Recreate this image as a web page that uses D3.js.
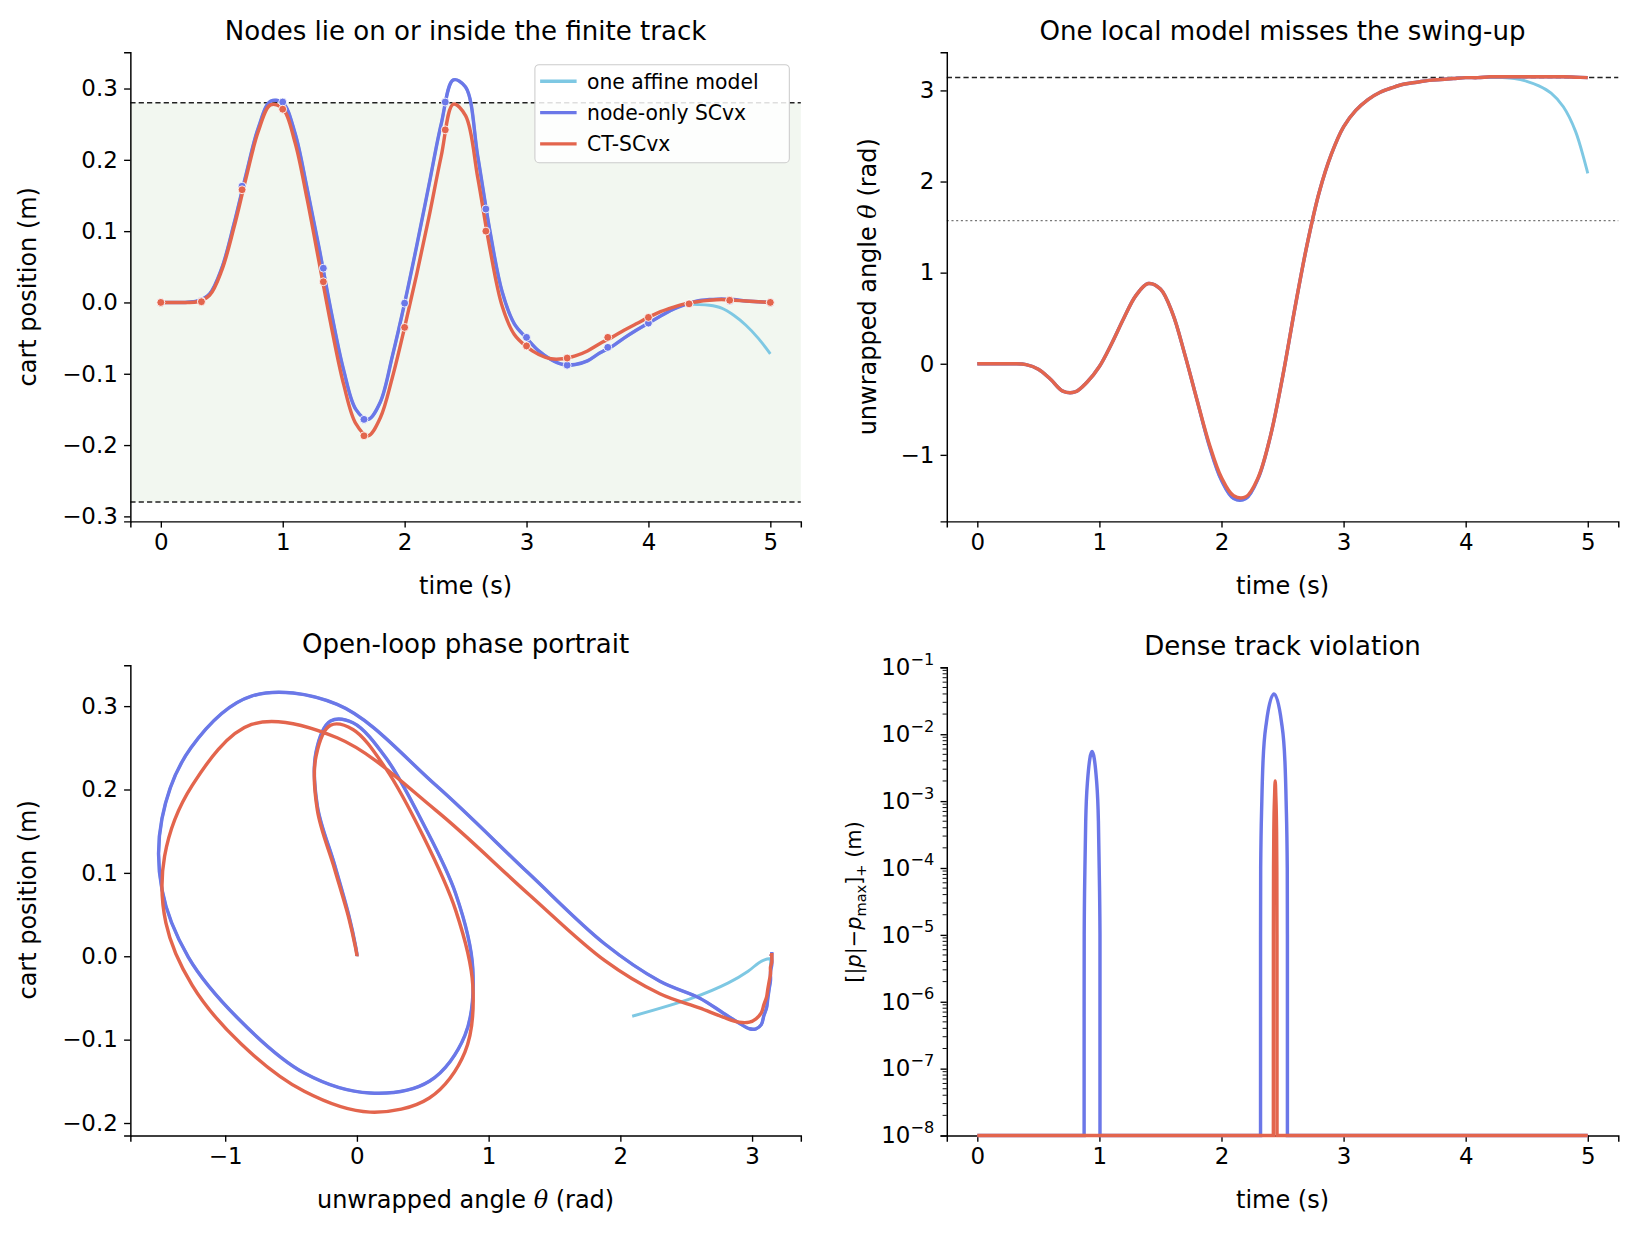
<!DOCTYPE html>
<html><head><meta charset="utf-8">
<script src="https://cdn.jsdelivr.net/npm/d3@7"></script>
<style>body{margin:0;background:#fff}text{font-family:"DejaVu Sans",sans-serif}</style>
</head><body><svg id="c" width="1635" height="1234"></svg>
<script>
// time grid 0..5 step 0.1
const tGrid = d3.range(51).map(i => i / 10);
const pRed = [0,0,0,0.001,0.01,0.045,0.105,0.175,0.24,0.277,0.272,0.225,0.145,0.055,-0.035,-0.115,-0.17,-0.187,-0.162,-0.105,-0.035,0.04,0.12,0.205,0.278,0.262,0.175,0.075,-0.005,-0.045,-0.062,-0.073,-0.079,-0.079,-0.075,-0.068,-0.058,-0.049,-0.039,-0.03,-0.021,-0.013,-0.007,-0.002,0.001,0.003,0.004,0.003,0.002,0.001,0];
const pBlue = [0,0,0,0.002,0.012,0.048,0.11,0.18,0.245,0.282,0.28,0.238,0.16,0.075,-0.015,-0.095,-0.15,-0.164,-0.14,-0.075,-0.001,0.08,0.165,0.25,0.312,0.302,0.205,0.1,0.015,-0.03,-0.05,-0.068,-0.08,-0.087,-0.087,-0.082,-0.071,-0.062,-0.05,-0.039,-0.029,-0.019,-0.01,-0.003,0.002,0.004,0.005,0.004,0.002,0.001,0];
const pCyan = [0,0,0,0.002,0.012,0.048,0.11,0.18,0.245,0.282,0.28,0.238,0.16,0.075,-0.015,-0.095,-0.15,-0.164,-0.14,-0.075,-0.001,0.08,0.165,0.25,0.312,0.302,0.205,0.1,0.015,-0.03,-0.05,-0.068,-0.08,-0.087,-0.087,-0.082,-0.071,-0.062,-0.05,-0.039,-0.029,-0.019,-0.01,-0.003,-0.003,-0.004,-0.008,-0.018,-0.032,-0.05,-0.072];
const thRed = [0,0,0,0,-0.01,-0.06,-0.17,-0.3,-0.31,-0.2,-0.03,0.22,0.5,0.75,0.88,0.82,0.55,0.1,-0.4,-0.88,-1.25,-1.45,-1.46,-1.25,-0.8,-0.15,0.6,1.3,1.88,2.3,2.6,2.78,2.9,2.98,3.03,3.07,3.09,3.11,3.12,3.13,3.14,3.14,3.15,3.15,3.15,3.15,3.15,3.15,3.15,3.145,3.14];
const thBlue = [0,0,0,0,-0.01,-0.06,-0.17,-0.3,-0.31,-0.2,-0.03,0.22,0.5,0.75,0.88,0.82,0.55,0.1,-0.4,-0.9,-1.28,-1.48,-1.48,-1.26,-0.8,-0.15,0.6,1.3,1.88,2.3,2.6,2.78,2.9,2.98,3.03,3.07,3.09,3.11,3.12,3.13,3.14,3.14,3.15,3.15,3.15,3.15,3.15,3.15,3.15,3.145,3.14];
const thCyan = [0,0,0,0,-0.01,-0.06,-0.17,-0.3,-0.31,-0.2,-0.03,0.22,0.5,0.75,0.88,0.82,0.55,0.1,-0.4,-0.9,-1.28,-1.48,-1.48,-1.26,-0.8,-0.15,0.6,1.3,1.88,2.3,2.6,2.78,2.9,2.98,3.03,3.07,3.09,3.11,3.12,3.13,3.14,3.14,3.14,3.14,3.13,3.1,3.05,2.97,2.82,2.55,2.09];
// node markers at t = k/3
const nodeT = d3.range(16).map(k => k / 3);
const nodeRed = [0,0.001,0.158,0.271,0.029,-0.187,-0.035,0.242,0.1,-0.061,-0.078,-0.049,-0.021,-0.002,0.003,0];
const nodeBlue = [0,0.002,0.163,0.281,0.048,-0.164,-0.001,0.281,0.131,-0.049,-0.088,-0.063,-0.029,-0.002,0.002,0];
// dense track violation (clipped at 1e-8)
const vBlueT = [0,0.875,0.8751,0.8757,0.8815,0.888,0.903,0.94,0.977,0.992,0.9985,1.0049,1.005,2.32,2.3201,2.3211,2.3305,2.3405,2.368,2.43,2.492,2.5195,2.5295,2.5389,2.54,2.5401,5];
const vBlue = [1e-8,1e-8,1e-6,1e-5,1e-4,5e-4,2e-3,5.5e-3,2e-3,5e-4,1e-4,1e-5,1e-8,1e-8,1e-5,1e-4,1e-3,4e-3,1.5e-2,4e-2,1.5e-2,4e-3,1e-3,1e-4,1e-5,1e-8,1e-8];
const vRedT = [0,2.425,2.4251,2.4253,2.4265,2.429,2.435,2.44,2.445,2.451,2.4535,2.4547,2.4549,2.455,5];
const vRed = [1e-8,1e-8,1e-6,1e-5,1e-4,4e-4,1.2e-3,2e-3,1.2e-3,4e-4,1e-4,1e-5,1e-6,1e-8,1e-8];
const legendLabels = ["one affine model","node-only SCvx","CT-SCvx"];
const C = {cyan:"#7ec8e3", blue:"#6b77e8", red:"#e3654d"};

const svg = d3.select("#c").append("g").attr("transform","scale(1.0427)");
const line = (x,y,xs,ys,curve=d3.curveCatmullRom) => d3.line().curve(curve).x((d,i)=>x(xs[i])).y((d,i)=>y(ys[i]))(xs);

function frame(g, x, y, title, xl, xticks, yticks, yfmt) {
  const [x0,x1] = x.range(), [y1,y0] = y.range();
  const xa = g.append("g").attr("transform",`translate(0,${y1})`).call(d3.axisBottom(x).tickValues(xticks).tickSizeOuter(0).tickFormat(d=>String(d).replace("-","−")).tickSize(6).tickPadding(6));
  const ya = g.append("g").attr("transform",`translate(${x0},0)`).call(d3.axisLeft(y).tickValues(yticks).tickFormat(yfmt).tickSizeOuter(0).tickSize(6).tickPadding(6));
  g.selectAll(".tick text").attr("font-size",22).attr("fill","#000").attr("font-family","DejaVu Sans");
  g.selectAll(".domain").attr("stroke","#000").attr("stroke-width",1.4);
  g.selectAll(".tick line").attr("stroke","#000").attr("stroke-width",1.3);
  g.append("text").attr("x",(x0+x1)/2).attr("y",y0-12).attr("text-anchor","middle").attr("font-size",25).text(title);
  g.append("text").attr("x",(x0+x1)/2).attr("y",y1+70).attr("text-anchor","middle").attr("font-size",23).html(xl);
  return {xa, ya};
}
const dec = d3.format(".1f");
const minus = f => d => f(d).replace("-","−");

// Panel TL
{
  const g = svg.append("g");
  const x = d3.scaleLinear().domain([-0.25,5.25]).range([125,768]);
  const y = d3.scaleLinear().domain([-0.307,0.351]).range([500,50]);
  g.append("rect").attr("x",125).attr("width",643).attr("y",y(0.28)).attr("height",y(-0.28)-y(0.28)).attr("fill","#f2f7f0");
  [0.28,-0.28].forEach(v=>g.append("line").attr("x1",125).attr("x2",768).attr("y1",y(v)).attr("y2",y(v)).attr("stroke","#222").attr("stroke-width",1.4).attr("stroke-dasharray","5,3"));
  frame(g,x,y,"Nodes lie on or inside the finite track","time (s)",[0,1,2,3,4,5],[-0.3,-0.2,-0.1,0,0.1,0.2,0.3],minus(dec));
  g.append("text").attr("transform","translate(35,275) rotate(-90)").attr("text-anchor","middle").attr("font-size",23).text("cart position (m)");
  g.append("path").attr("d",line(x,y,tGrid,pCyan)).attr("fill","none").attr("stroke",C.cyan).attr("stroke-width",2.8);
  g.append("path").attr("d",line(x,y,tGrid,pBlue)).attr("fill","none").attr("stroke",C.blue).attr("stroke-width",3.3);
  g.append("path").attr("d",line(x,y,tGrid,pRed)).attr("fill","none").attr("stroke",C.red).attr("stroke-width",3.3);
  g.selectAll(".nb").data(nodeT).join("circle").attr("cx",d=>x(d)).attr("cy",(d,i)=>y(nodeBlue[i])).attr("r",3.8).attr("fill",C.blue).attr("stroke","#fff").attr("stroke-width",0.8);
  g.selectAll(".nr").data(nodeT).join("circle").attr("cx",d=>x(d)).attr("cy",(d,i)=>y(nodeRed[i])).attr("r",3.8).attr("fill",C.red).attr("stroke","#fff").attr("stroke-width",0.8);
  const lg = g.append("g").attr("transform","translate(513,62)");
  lg.append("rect").attr("width",244).attr("height",94).attr("rx",4).attr("fill","#fff").attr("fill-opacity",0.85).attr("stroke","#ccc");
  [C.cyan,C.blue,C.red].forEach((c,i)=>{
    lg.append("line").attr("x1",5).attr("x2",40).attr("y1",16+30*i).attr("y2",16+30*i).attr("stroke",c).attr("stroke-width",3.3);
    lg.append("text").attr("x",50).attr("y",23+30*i).attr("font-size",19.5).text(legendLabels[i]);
  });
}
// Panel TR
{
  const g = svg.append("g");
  const x = d3.scaleLinear().domain([-0.25,5.25]).range([908,1552]);
  const y = d3.scaleLinear().domain([-1.73,3.42]).range([500,50]);
  g.append("line").attr("x1",908).attr("x2",1552).attr("y1",y(Math.PI)).attr("y2",y(Math.PI)).attr("stroke","#222").attr("stroke-width",1.4).attr("stroke-dasharray","5,3");
  g.append("line").attr("x1",908).attr("x2",1552).attr("y1",y(Math.PI/2)).attr("y2",y(Math.PI/2)).attr("stroke","#777").attr("stroke-width",1.4).attr("stroke-dasharray","2,2.5");
  frame(g,x,y,"One local model misses the swing-up","time (s)",[0,1,2,3,4,5],[-1,0,1,2,3],minus(d3.format("d")));
  g.append("text").attr("transform","translate(840,275) rotate(-90)").attr("text-anchor","middle").attr("font-size",23).html('unwrapped angle <tspan font-style="italic" font-family="DejaVu Serif">θ</tspan> (rad)');
  g.append("path").attr("d",line(x,y,tGrid,thCyan)).attr("fill","none").attr("stroke",C.cyan).attr("stroke-width",2.8);
  g.append("path").attr("d",line(x,y,tGrid,thBlue)).attr("fill","none").attr("stroke",C.blue).attr("stroke-width",3.3);
  g.append("path").attr("d",line(x,y,tGrid,thRed)).attr("fill","none").attr("stroke",C.red).attr("stroke-width",3.3);
}
// Panel BL
{
  const g = svg.append("g");
  const x = d3.scaleLinear().domain([-1.72,3.37]).range([125,768]);
  const y = d3.scaleLinear().domain([-0.215,0.349]).range([1089,638]);
  frame(g,x,y,"Open-loop phase portrait",'unwrapped angle <tspan font-style="italic" font-family="DejaVu Serif">θ</tspan> (rad)',[-1,0,1,2,3],[-0.2,-0.1,0,0.1,0.2,0.3],minus(dec));
  g.append("text").attr("transform","translate(35,863) rotate(-90)").attr("text-anchor","middle").attr("font-size",23).text("cart position (m)");
  const ph = (xs,ys)=>d3.line().curve(d3.curveCatmullRom).x((d,i)=>x(xs[i])).y((d,i)=>y(ys[i]))(xs);
  g.append("path").attr("d",ph(thCyan,pCyan)).attr("fill","none").attr("stroke",C.cyan).attr("stroke-width",2.8);
  g.append("path").attr("d",ph(thBlue,pBlue)).attr("fill","none").attr("stroke",C.blue).attr("stroke-width",3.3);
  g.append("path").attr("d",ph(thRed,pRed)).attr("fill","none").attr("stroke",C.red).attr("stroke-width",3.3);
}
// Panel BR
{
  const g = svg.append("g");
  const x = d3.scaleLinear().domain([-0.25,5.25]).range([908,1552]);
  const y = d3.scaleLog().domain([1e-8,1e-1]).range([1089,640]);
  const ex = d3.range(-8,0);
  const ax = frame(g,x,y,"Dense track violation","time (s)",[0,1,2,3,4,5],ex.map(e=>Math.pow(10,e)),()=> "");
  ax.ya.selectAll(".tick text").each(function(d){
    const e = Math.round(Math.log10(d));
    d3.select(this).html(`10<tspan dy="-10" font-size="15.5">−${-e}</tspan>`);
  });
  const minors=[];
  ex.slice(0,-1).forEach(e=>{for(let k=2;k<10;k++)minors.push(k*Math.pow(10,e));});
  g.selectAll(".mt").data(minors).join("line").attr("x1",908).attr("x2",904).attr("y1",d=>y(d)).attr("y2",d=>y(d)).attr("stroke","#000").attr("stroke-width",0.9);
  g.append("text").attr("transform","translate(826,865) rotate(-90)").attr("text-anchor","middle").attr("font-size",20).attr("font-family","DejaVu Serif")
   .html('[|<tspan font-style="italic">p</tspan>|−<tspan font-style="italic">p</tspan><tspan dy="5" font-size="14">max</tspan><tspan dy="-5">]</tspan><tspan dy="5" font-size="14">+</tspan><tspan dy="-5" font-family="DejaVu Sans"> (m)</tspan>');
  const lv = (xs,ys)=>d3.line().curve(d3.curveMonotoneX).x((d,i)=>x(xs[i])).y((d,i)=>y(ys[i]))(xs);
  g.append("path").attr("d",lv(vBlueT,vBlue)).attr("fill","none").attr("stroke",C.blue).attr("stroke-width",3.3);
  g.append("path").attr("d",lv(vRedT,vRed)).attr("fill","none").attr("stroke",C.red).attr("stroke-width",3.3);
}
</script></body></html>
